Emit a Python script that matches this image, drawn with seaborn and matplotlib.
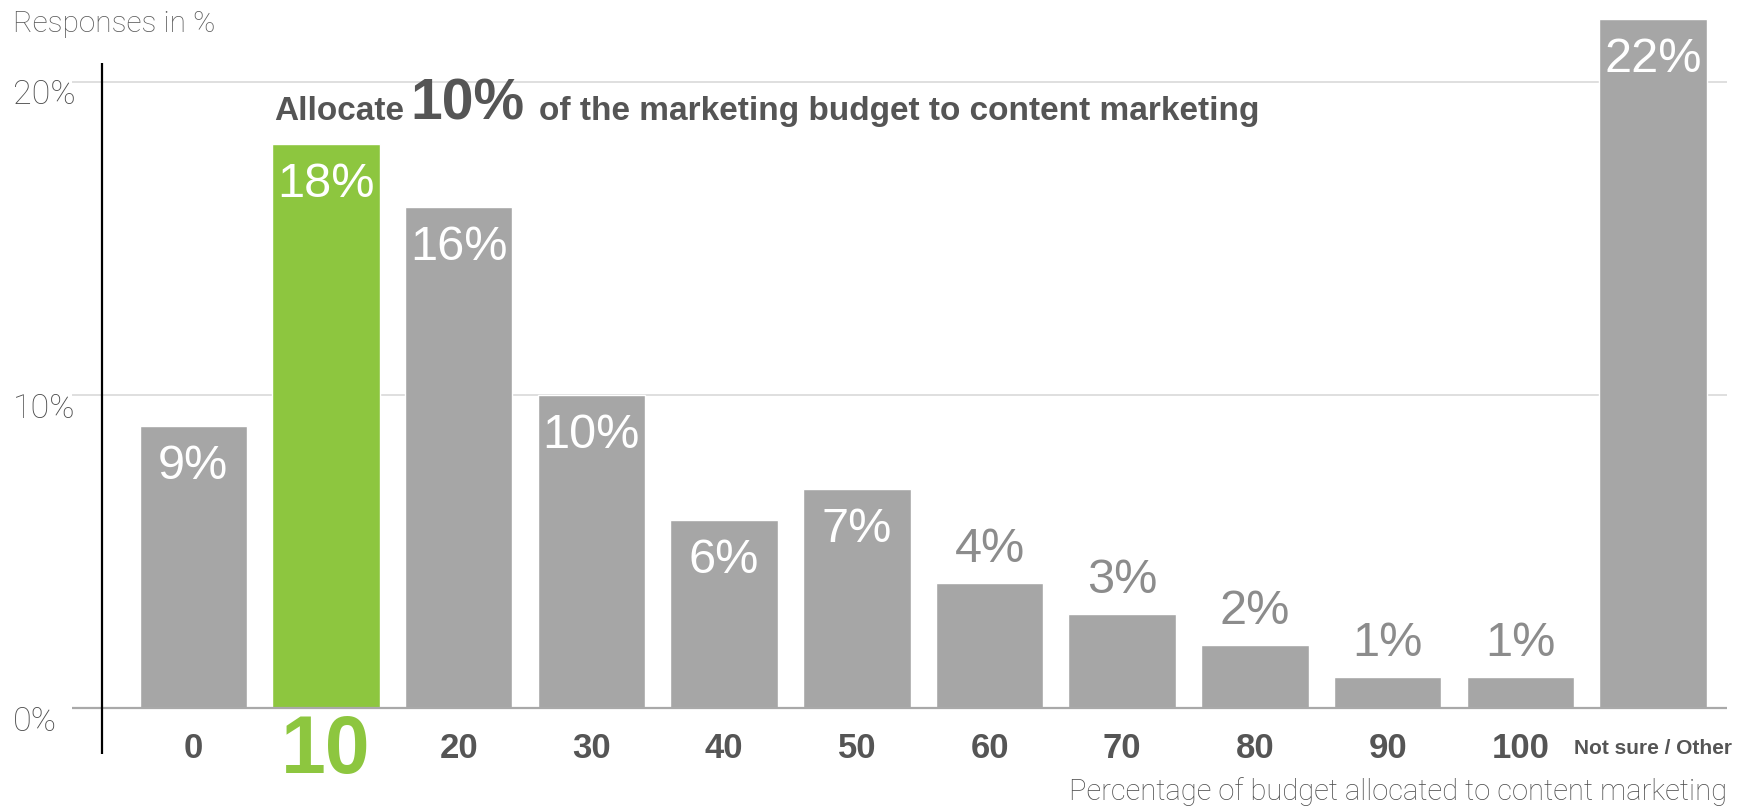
import matplotlib
matplotlib.use("Agg")
import matplotlib.pyplot as plt
import seaborn as sns

# Survey data: share of respondents by budget share allocated to content marketing
categories = ["0", "10", "20", "30", "40", "50", "60", "70", "80", "90", "100", "Not sure / Other"]
responses = [9, 18, 16, 10, 6, 7, 4, 3, 2, 1, 1, 22]
value_labels = ["9%", "18%", "16%", "10%", "6%", "7%", "4%", "3%", "2%", "1%", "1%", "22%"]
label_inside = [True, True, True, True, True, True, False, False, False, False, False, True]
y_ticks = [0, 10, 20]
y_tick_labels = ["0%", "10%", "20%"]
highlight = "10"

GREY = "#a6a6a6"
GREEN = "#8dc63f"
DARK = "#555555"
LIGHT_TXT = "#4d4d4d"

sns.set_theme(style="white")
plt.rcParams["font.family"] = ["Liberation Sans", "DejaVu Sans"]

W, H, DPI = 1752, 810, 100
fig = plt.figure(figsize=(W / DPI, H / DPI), dpi=DPI, facecolor="white")

# axes geometry in pixels
ax_left, ax_right, ax_top, ax_bottom = 72, 1727, 15, 754
ax = fig.add_axes([ax_left / W, 1 - ax_bottom / H,
                   (ax_right - ax_left) / W, (ax_bottom - ax_top) / H])

palette = {c: (GREEN if c == highlight else GREY) for c in categories}
sns.barplot(x=categories, y=responses, hue=categories, order=categories,
            palette=palette, legend=False, width=0.81, saturation=1,
            ax=ax, zorder=3)

# scale: 0 at y=708px, 20 at y=81.6px
px_per_unit = (708 - 81.6) / 20
pitch = 132.7
x0_px = 193.3
ax.set_xlim((ax_left - x0_px) / pitch, (ax_right - x0_px) / pitch)
ax.set_ylim(-(ax_bottom - 708) / px_per_unit, (708 - ax_top) / px_per_unit)

for s in ax.spines.values():
    s.set_visible(False)
ax.set_xticks([])
ax.set_yticks([])
ax.set_xlabel("")
ax.set_ylabel("")
ax.patch.set_alpha(0)

# gridlines
for t in y_ticks:
    if t == 0:
        ax.axhline(t, color="#a9a9a9", lw=1.6, zorder=4)
    else:
        ax.axhline(t, color="#d9d9d9", lw=1.2, zorder=1)

# vertical axis line
vx = (102 - x0_px) / pitch
ax.plot([vx, vx], [-(ax_bottom - 708) / px_per_unit, (708 - 63) / px_per_unit],
        color="black", lw=1.6, zorder=5, solid_capstyle="butt")

light = dict(family=["Roboto", "Liberation Sans", "DejaVu Sans"], weight="light")

# y tick labels
for t, lab in zip(y_ticks, y_tick_labels):
    ax.annotate(lab, xy=(13, t), xycoords=("figure pixels", "data"),
                xytext=(0, -10), textcoords="offset points",
                ha="left", va="center", fontsize=24.5, color=LIGHT_TXT, **light)

# bar value labels
for i, (v, lab, inside) in enumerate(zip(responses, value_labels, label_inside)):
    if inside:
        ax.annotate(lab, xy=(i, v), xytext=(0, -13), textcoords="offset points",
                    ha="center", va="top", fontsize=35, color="white", zorder=6)
    else:
        ax.annotate(lab, xy=(i, v), xytext=(0, 8), textcoords="offset points",
                    ha="center", va="bottom", fontsize=35, color="#8c8c8c", zorder=6)

# category labels under the bars
for i, c in enumerate(categories):
    if c == highlight:
        ax.annotate(c, xy=(i, 0), xytext=(0, -32), textcoords="offset points",
                    ha="center", va="center", fontsize=58, fontweight="bold", color=GREEN)
    elif c.startswith("Not"):
        ax.annotate(c, xy=(i, 0), xytext=(0, -29), textcoords="offset points",
                    ha="center", va="center", fontsize=15, fontweight="bold", color=DARK,
                    family=["Liberation Sans Narrow", "Liberation Sans"])
    else:
        ax.annotate(c, xy=(i, 0), xytext=(0, -29), textcoords="offset points",
                    ha="center", va="center", fontsize=25, fontweight="bold", color=DARK)

# header texts
fig.text(13 / W, 1 - 24 / H, "Responses in %", ha="left", va="center",
         fontsize=21.5, color="#5a5a5a", **light)
fig.text(1727 / W, 1 - 792 / H, "Percentage of budget allocated to content marketing",
         ha="right", va="center", fontsize=21, color=LIGHT_TXT, **light)

# headline with an enlarged figure in the middle
fig.canvas.draw()
renderer = fig.canvas.get_renderer()
base_y = 1 - 120 / H
x_px = 274
parts = [("Allocate", 24, 6), ("10%", 41, 15), ("of the marketing budget to content marketing", 24, 0)]
for txt, fs, gap in parts:
    t = fig.text(x_px / W, base_y, txt, ha="left", va="baseline", fontsize=fs,
                 fontweight="bold", color=DARK)
    bb = t.get_window_extent(renderer)
    x_px += bb.width + gap

fig.savefig("out.png", dpi=DPI, facecolor="white")
